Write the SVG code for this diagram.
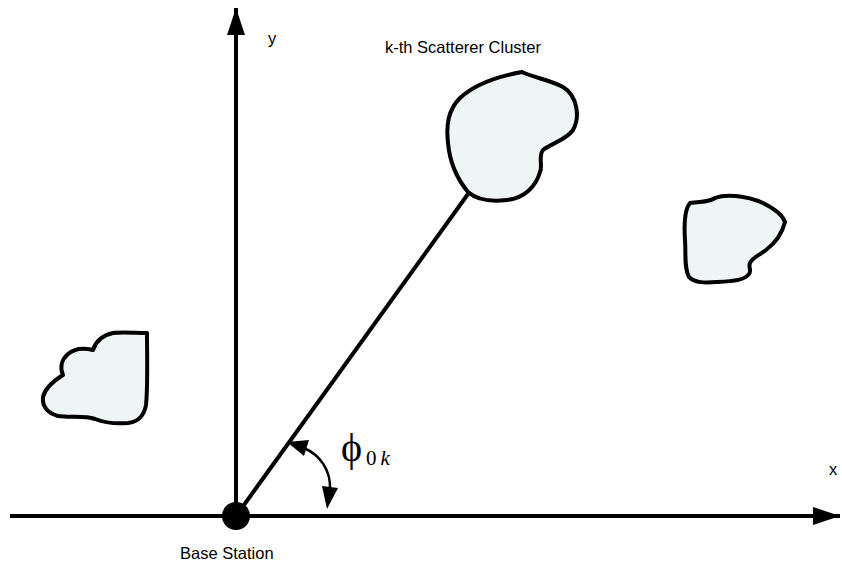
<svg xmlns="http://www.w3.org/2000/svg" width="842" height="564" viewBox="0 0 842 564">
<style>
.ax{stroke:#000;stroke-width:4;fill:none}
.cl{fill:#eff5f5;stroke:#000;stroke-width:4;stroke-linejoin:round}
.lbl{font-family:"Liberation Sans",Arial,sans-serif;font-size:16.5px;fill:#000}
.sym{font-family:"Liberation Serif","Times New Roman",serif;fill:#000}
</style>
<defs>
<marker id="ah" viewBox="0 0 27 18" refX="27" refY="9" markerWidth="6.75" markerHeight="4.5" markerUnits="strokeWidth" orient="auto">
<path d="M0,0 L27,9 L0,18 Z" fill="#000"/>
</marker>
</defs>
<g id="connectors">
<line class="ax" x1="10" y1="516" x2="840" y2="516" marker-end="url(#ah)"/>
<line class="ax" x1="236" y1="516" x2="236" y2="8" marker-end="url(#ah)"/>
<line class="ax" x1="236" y1="516" x2="468" y2="194"/>
<path d="M304,448 C320,455 331,470 330,490" fill="none" stroke="#000" stroke-width="2.5"/>
<path d="M287,442 L309,440 L304,456 Z" fill="#000"/>
<path d="M327,509 L338,488 L322,486 Z" fill="#000"/>
</g>
<g id="base-station">
<circle cx="236" cy="516" r="14" fill="#000"/>
<text class="lbl" x="180" y="559">Base Station</text>
</g>
<g id="cluster-k">
<path class="cl" d="M522,72 C535,78 550,80 563,87 C578,96 580,118 573,130 C566,140 552,143 543,150 C538,156 543,166 540,172 C536,186 525,198 507,200 C490,202 477,200 468,192 C458,180 450,165 448,143 C446,125 448,110 460,98 C475,84 500,76 522,72 Z"/>
<text class="lbl" x="385" y="53">k-th Scatterer Cluster</text>
</g>
<g id="cluster-right">
<path class="cl" d="M690,203 C700,201 708,203 715,198 C725,194 745,195 763,203 C775,209 783,216 785,222 C782,234 774,244 766,250 C758,256 752,258 750,263 C748,267 752,271 749,274 C745,280 735,281 717,282 C705,283 695,283 689,277 C684,268 686,255 685,240 C684,225 684,210 690,203 Z"/>
</g>
<g id="cluster-left">
<path class="cl" d="M147,333 C135,333 122,332 113,333 C103,335 96,341 93,350 C85,348 75,348 68,354 C61,360 60,368 63,375 C55,380 45,388 43,397 C42,407 48,413 58,416 C70,418 84,415 95,419 C105,423 115,424 128,423 C138,422 144,416 146,405 C148,385 147,355 147,333 Z"/>
</g>
<g id="labels">
<text class="lbl" x="268" y="44">y</text>
<text class="lbl" x="829" y="475">x</text>
<text class="sym" x="341" y="461" font-size="40">ϕ</text>
<text class="sym" x="366" y="465" font-size="21">0<tspan font-style="italic" dx="4">k</tspan></text>
</g>
</svg>
